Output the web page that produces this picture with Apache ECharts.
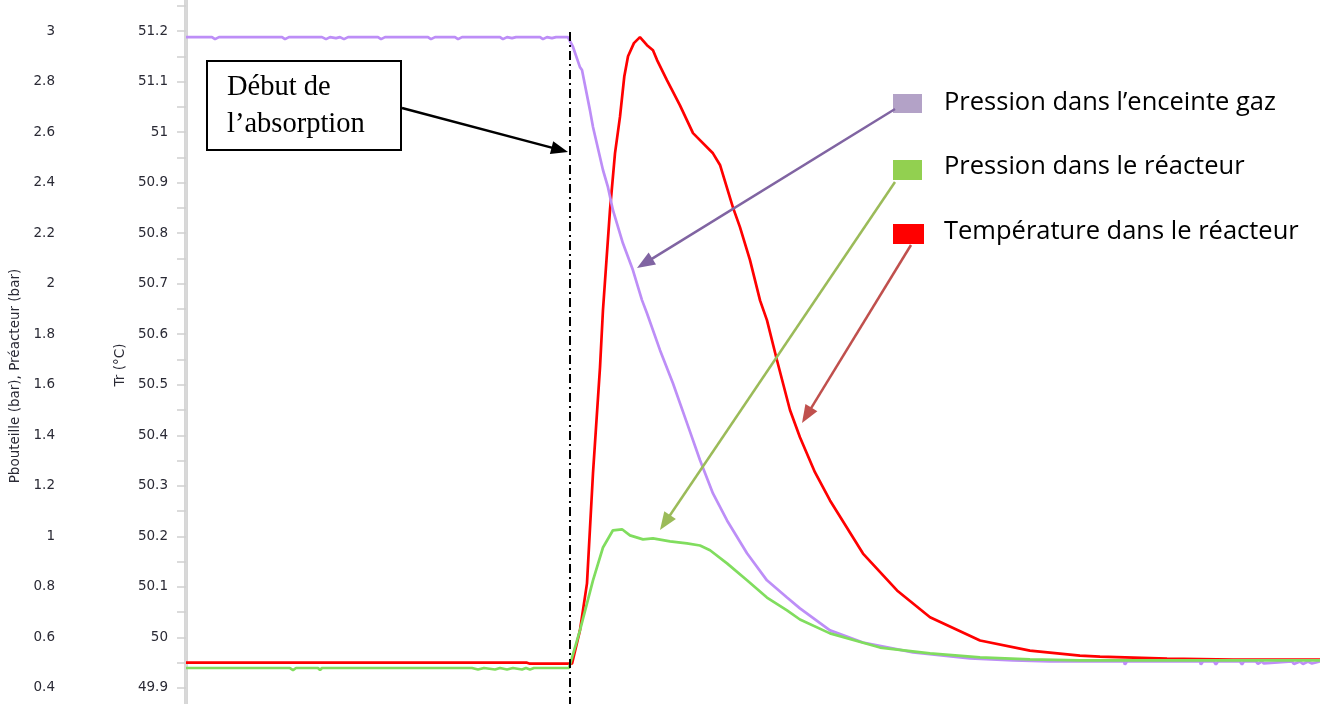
<!DOCTYPE html>
<html><head><meta charset="utf-8">
<script src="https://cdn.jsdelivr.net/npm/echarts@6/dist/echarts.min.js"></script>
<style>html,body{margin:0;padding:0;background:#fff}#c{width:1320px;height:704px}</style>
</head><body><div id="c"></div>
<script>
// ---- data (time in s, arbitrary origin) ----
const seriesNames = ['Pression dans l’enceinte gaz', 'Pression dans le réacteur', 'Température dans le réacteur'];
const axisNameP = 'Pbouteille (bar), Préacteur (bar)';
const axisNameT = 'Tr (°C)';
const absorptionStart = 338.2;
const annotationLines = ['Début de', 'l’absorption'];

// Pbouteille (bar) - pression dans l'enceinte gaz
const tGas = [0, 22.9, 25.6, 29.1, 84.7, 87.3, 90.8, 119.9, 123.5, 127.0, 132.3, 135.8, 139.3, 142.9, 169.3, 172.0, 175.5,
  213.4, 216.0, 219.6, 237.2, 239.9, 243.4, 276.9, 279.5, 283.1, 287.5, 291.0, 312.2, 314.8, 318.3, 322.7, 326.3, 336.8,
  341.3, 347.4, 349.2, 356.2, 358.9, 367.7, 372.1, 376.5, 385.3, 394.1, 402.1, 406.5, 418.0, 429.4, 441.8, 453.3, 464.7,
  477.1, 494.7, 512.3, 530.0, 541.4, 567.9, 597.0, 641.1, 691.3, 729.3, 761.9,
  806.0, 827.1, 828.0, 829.8, 894.1, 895.0, 896.8, 906.5, 908.2, 910.0, 929.4, 931.2, 932.9, 943.5, 945.3, 948.8, 950.5,
  975.3, 977.0, 982.3, 985.0, 989.4, 992.9, 1000];
const pGas = [2.976, 2.976, 2.968, 2.976, 2.976, 2.968, 2.976, 2.976, 2.968, 2.976, 2.972, 2.976, 2.968, 2.976, 2.976, 2.968, 2.976,
  2.976, 2.968, 2.976, 2.976, 2.968, 2.976, 2.976, 2.968, 2.976, 2.972, 2.976, 2.976, 2.968, 2.976, 2.972, 2.976, 2.976,
  2.937, 2.857, 2.846, 2.687, 2.620, 2.450, 2.382, 2.291, 2.160, 2.054, 1.935, 1.883, 1.737, 1.606, 1.448, 1.301, 1.170,
  1.063, 0.933, 0.826, 0.758, 0.715, 0.628, 0.580, 0.541, 0.517, 0.509, 0.505,
  0.505, 0.505, 0.493, 0.505, 0.505, 0.493, 0.505, 0.505, 0.493, 0.505, 0.505, 0.493, 0.505, 0.505, 0.495, 0.505, 0.497,
  0.505, 0.495, 0.505, 0.495, 0.505, 0.497, 0.505];

// Préacteur (bar)
const tReac = [0, 91.7, 94.4, 97.0, 116.4, 118.2, 119.9, 252.2, 257.5, 262.8, 272.5, 276.9, 283.1, 288.3, 296.3, 299.8, 303.3, 306.9, 337.7,
  338.6, 347.4, 358.9, 367.7, 376.5, 384.5, 391.5, 403.0, 411.8, 426.8, 441.8, 453.3, 462.1, 477.1, 494.7, 512.3, 530.0,
  541.4, 567.9, 612.0, 656.1, 700.2, 744.2, 788.3, 894.1, 1000];
const pReac = [0.479, 0.479, 0.471, 0.479, 0.479, 0.471, 0.479, 0.479, 0.473, 0.479, 0.473, 0.479, 0.473, 0.479, 0.473, 0.479, 0.473, 0.479, 0.479,
  0.481, 0.628, 0.826, 0.956, 1.024, 1.028, 1.004, 0.988, 0.992, 0.980, 0.972, 0.964, 0.945, 0.893, 0.826, 0.758, 0.707,
  0.671, 0.616, 0.560, 0.537, 0.521, 0.513, 0.509, 0.509, 0.509];

// Tr (°C)
const tTemp = [0, 300.7, 303.3, 340.4, 347.4, 353.6, 358.9, 365.1, 367.7, 373.9, 378.3, 382.7, 386.5, 389.8, 395.0, 400.3,
  406.5, 411.8, 415.3, 424.1, 435.6, 447.1, 450.6, 464.7, 470.9, 482.3, 488.5, 497.3, 506.2, 512.3, 521.1, 532.6, 541.4,
  554.6, 567.9, 597.0, 627.0, 656.1, 700.2, 744.2, 788.3, 806.0, 865.1, 923.3, 1000];
const vTemp = [49.950, 49.950, 49.948, 49.948, 50.014, 50.107, 50.325, 50.535, 50.648, 50.846, 50.958, 51.030, 51.110, 51.150, 51.176, 51.188,
  51.172, 51.162, 51.143, 51.103, 51.053, 50.998, 50.990, 50.958, 50.935, 50.851, 50.812, 50.747, 50.667, 50.628, 50.549, 50.450, 50.396,
  50.327, 50.271, 50.166, 50.093, 50.040, 49.994, 49.974, 49.964, 49.962, 49.958, 49.956, 49.956];

const colors = ['#bd8ef7', '#80dd5e', '#ff0000'];
const legendSwatch = ['#b3a2c7', '#92d050', '#ff0000'];
const arrowColors = ['#8064a2', '#9bbb59', '#c0504d'];

function zip(t, v) { return t.map((x, i) => [x, v[i]]); }

function arrow(x1, y1, x2, y2, color, w, hl, hw) {
  const dx = x2 - x1, dy = y2 - y1, L = Math.hypot(dx, dy), ux = dx / L, uy = dy / L;
  const bx = x2 - ux * hl, by = y2 - uy * hl, px = -uy, py = ux;
  return [
    { type: 'line', z: 100, shape: { x1: x1, y1: y1, x2: bx + ux * 2, y2: by + uy * 2 }, style: { stroke: color, lineWidth: w } },
    { type: 'polygon', z: 100, shape: { points: [[x2, y2], [bx + px * hw / 2, by + py * hw / 2], [bx - px * hw / 2, by - py * hw / 2]] }, style: { fill: color } }
  ];
}

const chart = echarts.init(document.getElementById('c'), null, { renderer: 'canvas' });

const labelStyle = { color: '#2a2a35', fontFamily: 'DejaVu Sans', fontSize: 13.5 };

const option = {
  backgroundColor: '#fff',
  animation: false,
  grid: { left: 186, right: 0, top: -19.5, bottom: -34.5, containLabel: false, outerBoundsMode: 'none' },
  xAxis: { type: 'value', min: 0, max: 1000, show: false },
  yAxis: [
    {
      type: 'value', position: 'left', offset: 113, min: 0.2, max: 3.2, interval: 0.2,
      name: axisNameP, nameLocation: 'middle', nameGap: 44, nameRotate: 90,
      nameTextStyle: { color: '#2a2a35', fontFamily: 'DejaVu Sans', fontSize: 13.5, padding: [0, 33, 0, 0] },
      axisLine: { show: true, lineStyle: { color: '#d6d6d6', width: 4 } },
      axisTick: { show: true, length: 9, lineStyle: { color: '#d0d0d0', width: 1.5 } },
      minorTick: { show: true, splitNumber: 2, length: 9, lineStyle: { color: '#d0d0d0', width: 1.5 } },
      axisLabel: Object.assign({ margin: 18 }, labelStyle),
      splitLine: { show: false }
    },
    {
      type: 'value', position: 'left', offset: 0, min: 49.8, max: 51.3, interval: 0.1,
      name: axisNameT, nameLocation: 'middle', nameGap: 57, nameRotate: 90,
      nameTextStyle: { color: '#2a2a35', fontFamily: 'DejaVu Sans', fontSize: 13.5, padding: [0, 11, 0, 0] },
      axisLine: { show: true, lineStyle: { color: '#d9d9d9', width: 1.5 } },
      axisTick: { show: true, length: 7, lineStyle: { color: '#d0d0d0', width: 1.5 } },
      minorTick: { show: true, splitNumber: 2, length: 7, lineStyle: { color: '#d0d0d0', width: 1.5 } },
      axisLabel: Object.assign({ margin: 18 }, labelStyle),
      splitLine: { show: false }
    }
  ],
  series: [
    {
      name: seriesNames[0], type: 'line', yAxisIndex: 0, showSymbol: false, data: zip(tGas, pGas),
      lineStyle: { color: colors[0], width: 2.7 }, itemStyle: { color: colors[0] }, z: 3,
      markLine: {
        silent: true, symbol: ['none', 'none'], label: { show: false },
        lineStyle: { color: '#000', width: 2, type: [9, 4, 2, 4] },
        data: [[{ coord: [absorptionStart, 2.996] }, { coord: [absorptionStart, 0.2] }]]
      }
    },
    {
      name: seriesNames[1], type: 'line', yAxisIndex: 0, showSymbol: false, data: zip(tReac, pReac),
      lineStyle: { color: colors[1], width: 2.7 }, itemStyle: { color: colors[1] }, z: 4
    },
    {
      name: seriesNames[2], type: 'line', yAxisIndex: 1, showSymbol: false, data: zip(tTemp, vTemp),
      lineStyle: { color: colors[2], width: 2.7 }, itemStyle: { color: colors[2] }, z: 2
    }
  ]
};
chart.setOption(option);

// ---- annotations (legend boxes, arrows, text box) ----
const g = [];
g.push({ type: 'rect', z: 100, shape: { x: 207, y: 61, width: 194, height: 89 }, style: { fill: '#fff', stroke: '#000', lineWidth: 2 } });
g.push({ type: 'text', z: 101, x: 227, y: 88, style: { text: annotationLines[0], font: '28.5px "Liberation Serif"', fill: '#000', verticalAlign: 'middle' } });
g.push({ type: 'text', z: 101, x: 227, y: 125, style: { text: annotationLines[1], font: '28.5px "Liberation Serif"', fill: '#000', verticalAlign: 'middle' } });
g.push.apply(g, arrow(402, 108, 568, 152, '#000', 2.5, 17, 13));
const swatches = [[893, 94, 29, 19], [893, 160, 29, 20], [893, 224, 31, 20]];
const textY = [103, 167, 232];
for (let i = 0; i < 3; i++) {
  const s = swatches[i];
  g.push({ type: 'rect', z: 100, shape: { x: s[0], y: s[1], width: s[2], height: s[3] }, style: { fill: legendSwatch[i] } });
  g.push({ type: 'text', z: 100, x: 944, y: textY[i], style: { text: seriesNames[i], font: '25.5px "Open Sans"', fill: '#000', verticalAlign: 'middle' } });
}
g.push.apply(g, arrow(895, 109, 637, 268, arrowColors[0], 2.5, 18, 14));
g.push.apply(g, arrow(895, 182, 660, 530, arrowColors[1], 2.5, 18, 14));
g.push.apply(g, arrow(911, 245, 802, 423, arrowColors[2], 2.5, 18, 14));
chart.setOption({ graphic: g });
</script>
</body></html>
